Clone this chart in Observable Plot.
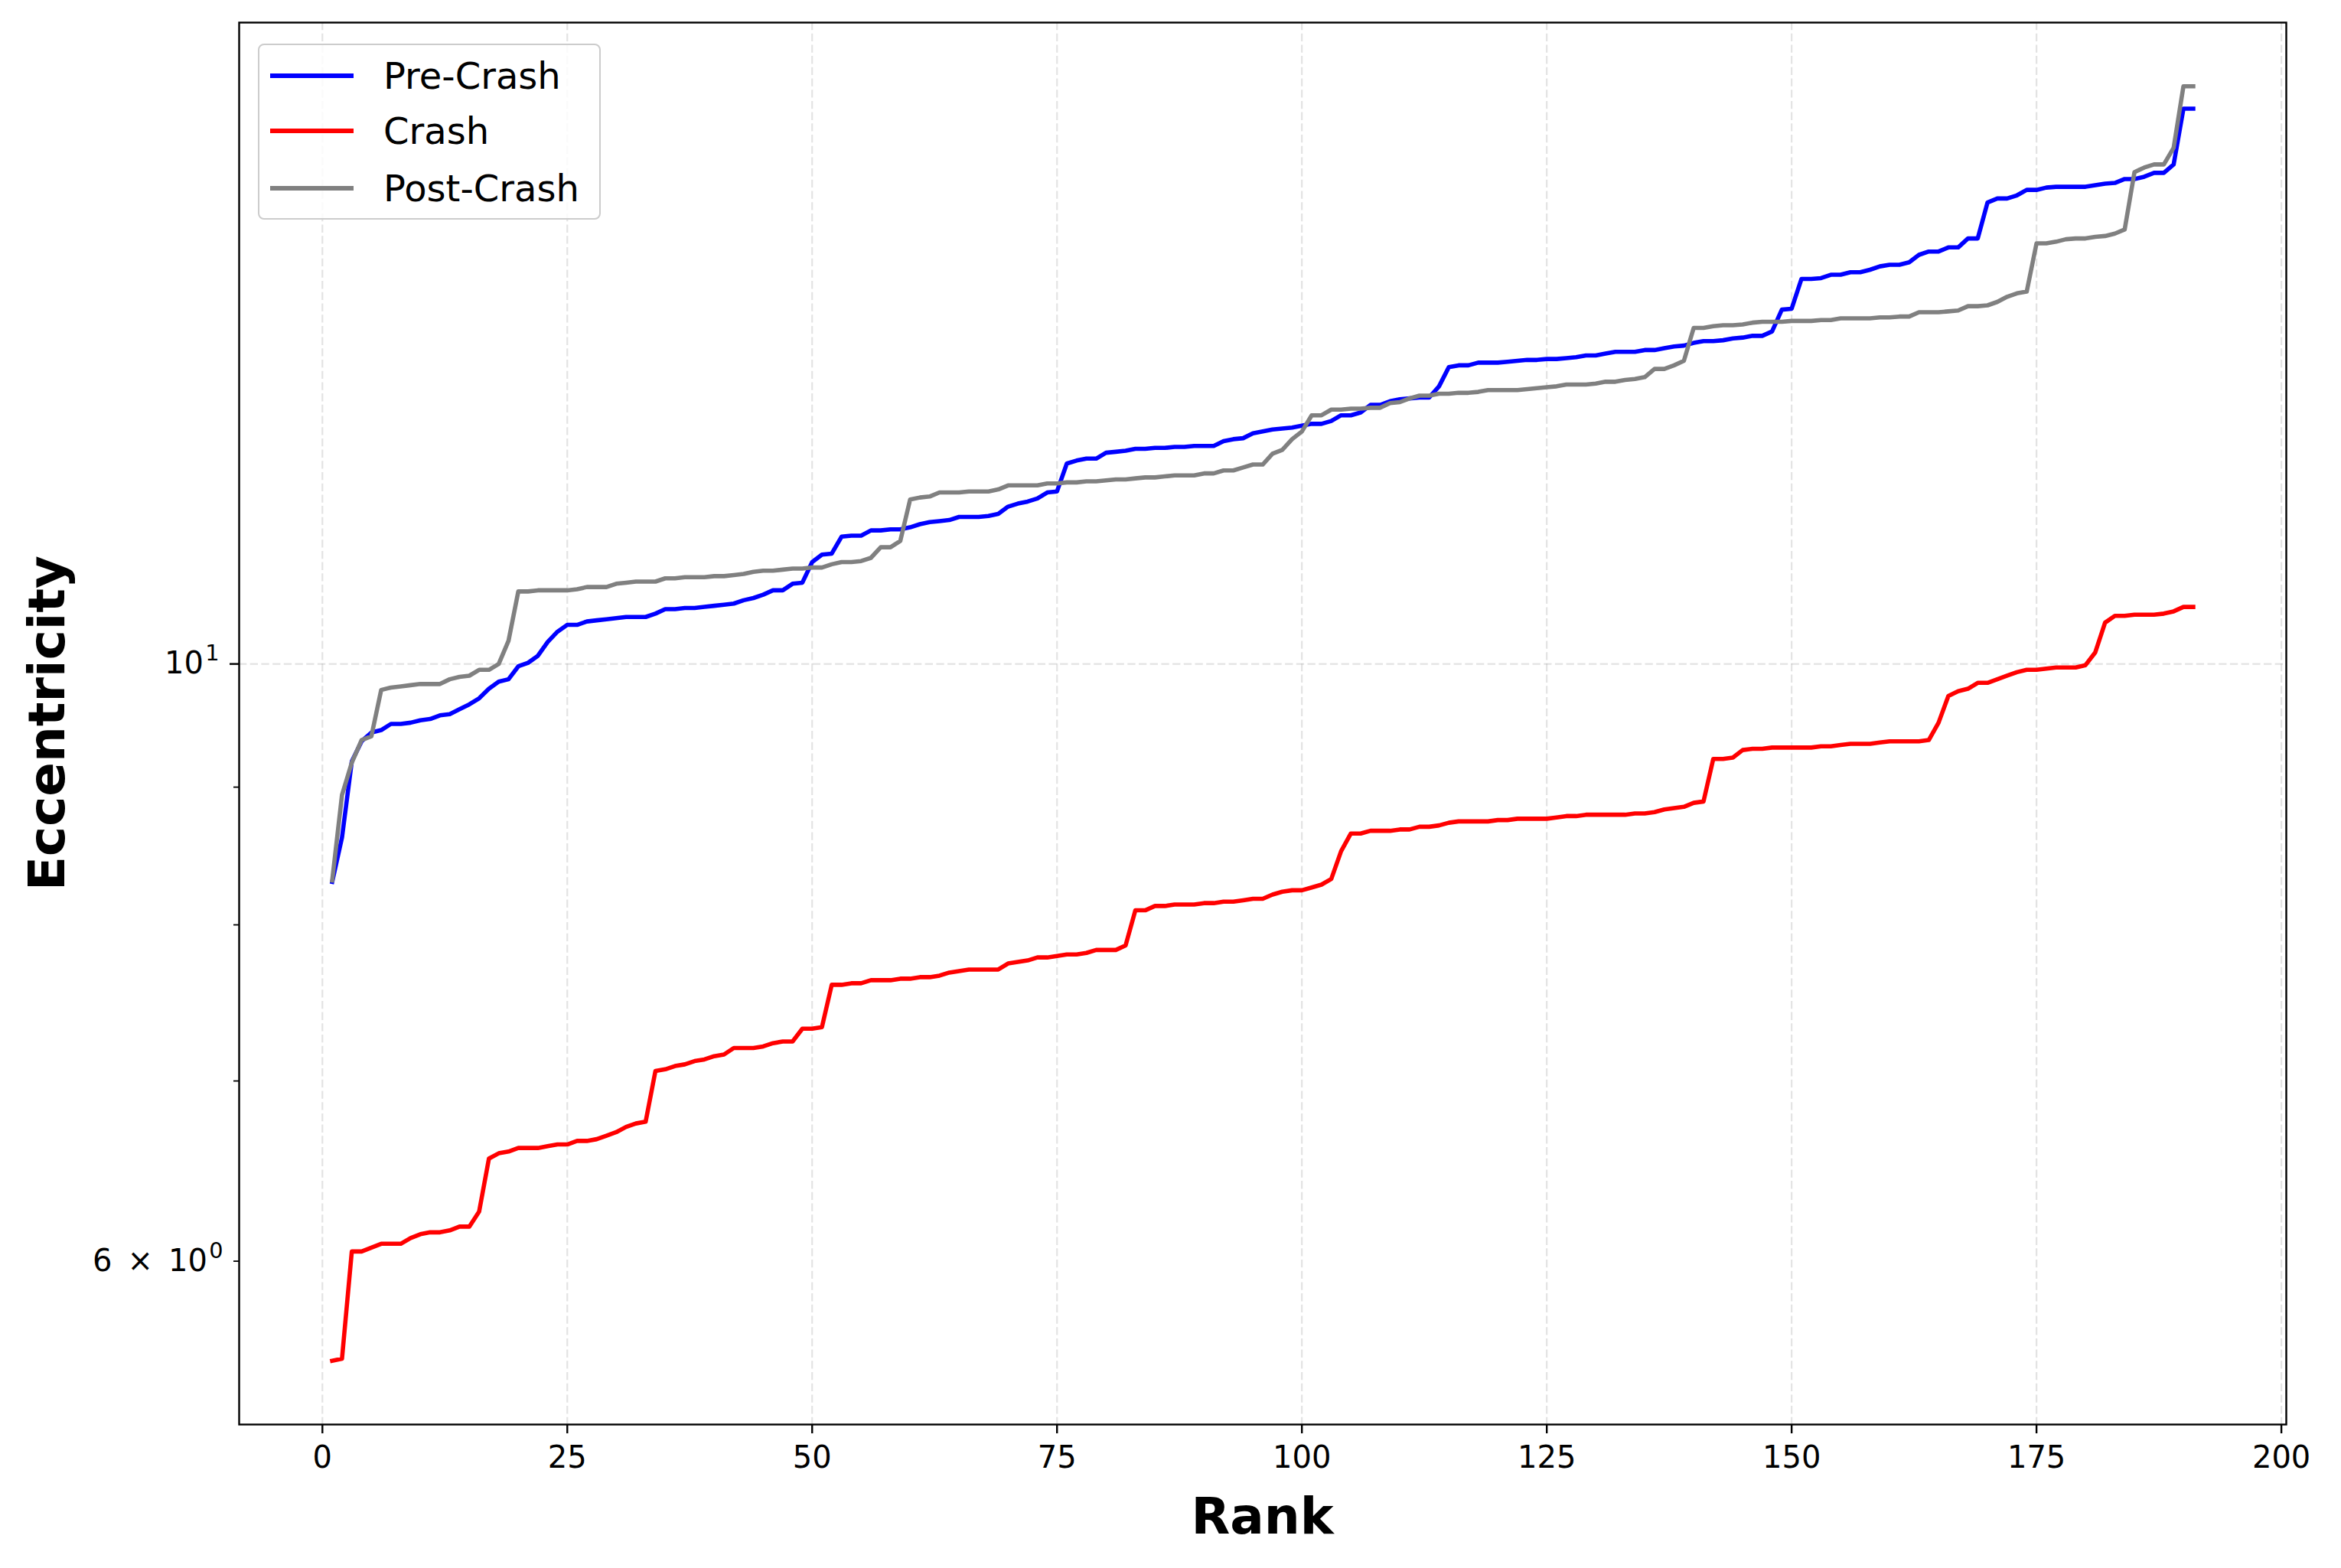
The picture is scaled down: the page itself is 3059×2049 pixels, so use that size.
<!DOCTYPE html>
<html>
<head>
<meta charset="utf-8">
<script src="https://cdn.jsdelivr.net/npm/d3@7"></script>
<script src="https://cdn.jsdelivr.net/npm/@observablehq/plot@0.6"></script>
<style>
  html, body { margin: 0; padding: 0; background: white; }
  #wrap { position: relative; width: 3059px; height: 2049px; font-family: "DejaVu Sans", sans-serif; }
  .lbl { position: absolute; font-family: "DejaVu Sans", sans-serif; font-weight: bold; line-height: 1; white-space: nowrap; color: black; }
  #legend { position: absolute; box-sizing: border-box; background: rgba(255,255,255,0.8); border: 2.2px solid #cccccc; border-radius: 8px; }
  .lg-row { position: absolute; display: flex; align-items: center; }
  .lg-swatch { height: 5.6px; }
  .lg-text { font-family: "DejaVu Sans", sans-serif; font-size: 48px; line-height: 1; color: black; }
</style>
</head>
<body>
<div id="wrap"></div>
<script>
// ---------------- data ----------------
const seriesNames = ["Pre-Crash", "Crash", "Post-Crash"];
const seriesColors = ["#0000ff", "#ff0000", "#808080"];

const preCrash = [
  8.30, 8.62, 9.20, 9.36, 9.43, 9.45, 9.50, 9.50, 9.51, 9.53,
  9.54, 9.57, 9.58, 9.62, 9.66, 9.71, 9.79, 9.85, 9.87, 9.98,
  10.01, 10.07, 10.19, 10.28, 10.34, 10.34, 10.37, 10.38, 10.39, 10.40,
  10.41, 10.41, 10.41, 10.44, 10.48, 10.48, 10.49, 10.49, 10.50, 10.51,
  10.52, 10.53, 10.56, 10.58, 10.61, 10.65, 10.65, 10.71, 10.72, 10.91,
  10.98, 10.99, 11.15, 11.16, 11.16, 11.21, 11.21, 11.22, 11.22, 11.24,
  11.27, 11.29, 11.30, 11.31, 11.34, 11.34, 11.34, 11.35, 11.37, 11.44,
  11.47, 11.49, 11.52, 11.58, 11.59, 11.87, 11.90, 11.92, 11.92, 11.98,
  11.99, 12.00, 12.02, 12.02, 12.03, 12.03, 12.04, 12.04, 12.05, 12.05,
  12.05, 12.10, 12.12, 12.13, 12.18, 12.20, 12.22, 12.23, 12.24, 12.26,
  12.28, 12.28, 12.31, 12.37, 12.37, 12.40, 12.48, 12.48, 12.52, 12.54,
  12.55, 12.56, 12.56, 12.68, 12.89, 12.91, 12.91, 12.94, 12.94, 12.94,
  12.95, 12.96, 12.97, 12.97, 12.98, 12.98, 12.99, 13.00, 13.02, 13.02,
  13.04, 13.06, 13.06, 13.06, 13.08, 13.08, 13.10, 13.12, 13.13, 13.16,
  13.18, 13.18, 13.19, 13.21, 13.22, 13.24, 13.24, 13.29, 13.54, 13.55,
  13.90, 13.90, 13.91, 13.95, 13.95, 13.98, 13.98, 14.01, 14.05, 14.07,
  14.07, 14.10, 14.19, 14.23, 14.23, 14.28, 14.28, 14.39, 14.39, 14.84,
  14.89, 14.89, 14.93, 15.00, 15.00, 15.03, 15.04, 15.04, 15.04, 15.04,
  15.06, 15.08, 15.09, 15.14, 15.14, 15.17, 15.22, 15.22, 15.33, 16.08,
  16.08
];

const crash = [
  5.51, 5.52, 6.05, 6.05, 6.07, 6.09, 6.09, 6.09, 6.12, 6.14,
  6.15, 6.15, 6.16, 6.18, 6.18, 6.26, 6.55, 6.58, 6.59, 6.61,
  6.61, 6.61, 6.62, 6.63, 6.63, 6.65, 6.65, 6.66, 6.68, 6.70,
  6.73, 6.75, 6.76, 7.06, 7.07, 7.09, 7.10, 7.12, 7.13, 7.15,
  7.16, 7.20, 7.20, 7.20, 7.21, 7.23, 7.24, 7.24, 7.32, 7.32,
  7.33, 7.60, 7.60, 7.61, 7.61, 7.63, 7.63, 7.63, 7.64, 7.64,
  7.65, 7.65, 7.66, 7.68, 7.69, 7.70, 7.70, 7.70, 7.70, 7.74,
  7.75, 7.76, 7.78, 7.78, 7.79, 7.80, 7.80, 7.81, 7.83, 7.83,
  7.83, 7.86, 8.10, 8.10, 8.13, 8.13, 8.14, 8.14, 8.14, 8.15,
  8.15, 8.16, 8.16, 8.17, 8.18, 8.18, 8.21, 8.23, 8.24, 8.24,
  8.26, 8.28, 8.32, 8.52, 8.65, 8.65, 8.67, 8.67, 8.67, 8.68,
  8.68, 8.70, 8.70, 8.71, 8.73, 8.74, 8.74, 8.74, 8.74, 8.75,
  8.75, 8.76, 8.76, 8.76, 8.76, 8.77, 8.78, 8.78, 8.79, 8.79,
  8.79, 8.79, 8.79, 8.80, 8.80, 8.81, 8.83, 8.84, 8.85, 8.88,
  8.89, 9.22, 9.22, 9.23, 9.29, 9.30, 9.30, 9.31, 9.31, 9.31,
  9.31, 9.31, 9.32, 9.32, 9.33, 9.34, 9.34, 9.34, 9.35, 9.36,
  9.36, 9.36, 9.36, 9.37, 9.51, 9.73, 9.77, 9.79, 9.84, 9.84,
  9.87, 9.90, 9.93, 9.95, 9.95, 9.96, 9.97, 9.97, 9.97, 9.99,
  10.10, 10.36, 10.42, 10.42, 10.43, 10.43, 10.43, 10.44, 10.46, 10.50,
  10.50
];

const postCrash = [
  8.31, 8.94, 9.19, 9.37, 9.40, 9.78, 9.80, 9.81, 9.82, 9.83,
  9.83, 9.83, 9.87, 9.89, 9.90, 9.95, 9.95, 10.00, 10.20, 10.64,
  10.64, 10.65, 10.65, 10.65, 10.65, 10.66, 10.68, 10.68, 10.68, 10.71,
  10.72, 10.73, 10.73, 10.73, 10.76, 10.76, 10.77, 10.77, 10.77, 10.78,
  10.78, 10.79, 10.80, 10.82, 10.83, 10.83, 10.84, 10.85, 10.85, 10.86,
  10.86, 10.89, 10.91, 10.91, 10.92, 10.95, 11.05, 11.05, 11.11, 11.51,
  11.53, 11.54, 11.58, 11.58, 11.58, 11.59, 11.59, 11.59, 11.61, 11.65,
  11.65, 11.65, 11.65, 11.67, 11.67, 11.68, 11.68, 11.69, 11.69, 11.70,
  11.71, 11.71, 11.72, 11.73, 11.73, 11.74, 11.75, 11.75, 11.75, 11.77,
  11.77, 11.80, 11.80, 11.83, 11.86, 11.86, 11.97, 12.01, 12.12, 12.20,
  12.37, 12.37, 12.43, 12.43, 12.44, 12.44, 12.45, 12.45, 12.50, 12.51,
  12.55, 12.58, 12.58, 12.60, 12.60, 12.61, 12.61, 12.62, 12.64, 12.64,
  12.64, 12.64, 12.65, 12.66, 12.67, 12.68, 12.70, 12.70, 12.70, 12.71,
  12.73, 12.73, 12.75, 12.76, 12.78, 12.87, 12.87, 12.91, 12.96, 13.33,
  13.33, 13.35, 13.36, 13.36, 13.37, 13.39, 13.40, 13.40, 13.40, 13.41,
  13.41, 13.41, 13.42, 13.42, 13.44, 13.44, 13.44, 13.44, 13.45, 13.45,
  13.46, 13.46, 13.51, 13.51, 13.51, 13.52, 13.53, 13.58, 13.58, 13.59,
  13.63, 13.69, 13.73, 13.75, 14.33, 14.33, 14.35, 14.38, 14.39, 14.39,
  14.41, 14.42, 14.45, 14.50, 15.23, 15.29, 15.33, 15.33, 15.55, 16.39,
  16.39
];

const xTicks = [0, 25, 50, 75, 100, 125, 150, 175, 200];
const yMajorTicks = [10];
const yLabelledMinorTicks = [6];
const yMinorTicks = [7, 8, 9];
// tick label text as [mantissa part, exponent]
const yTickParts = {6: ["6\u2002\u00d7\u200210", "0"], 10: ["10", "1"]};
const xLabel = "Rank";
const yLabel = "Eccentricity";

// ---------------- build table ----------------
const allSeries = [preCrash, crash, postCrash];
const rows = allSeries.flatMap((vals, s) =>
  vals.map((v, i) => ({rank: i + 1, value: v, series: seriesNames[s]})));

// ---------------- layout ----------------
const W = 3059, H = 2049;
const ML = 312, MR = 72, MT = 29, MB = 188;

const logMin = Math.log10(d3.min(crash));
const logMax = Math.log10(d3.max(postCrash));
const pad = (logMax - logMin) * 0.05;
const yDomain = [Math.pow(10, logMin - pad), Math.pow(10, logMax + pad)];
const xPad = (191 - 1) * 0.05;
const xDomain = [1 - xPad, 191 + xPad];

const gridStyle = {stroke: "#b0b0b0", strokeOpacity: 0.35, strokeWidth: 2.2, strokeDasharray: "10.3,4.4"};
const yFmt = d => yTickParts[d][0] + "^" + yTickParts[d][1];

const chart = Plot.plot({
  width: W,
  height: H,
  marginLeft: ML,
  marginRight: MR,
  marginTop: MT,
  marginBottom: MB,
  style: {fontFamily: "DejaVu Sans", fontSize: "40px", background: "white", color: "black"},
  x: {domain: xDomain, label: null},
  y: {type: "log", domain: yDomain, label: null},
  color: {domain: seriesNames, range: seriesColors},
  marks: [
    Plot.gridX(xTicks, gridStyle),
    Plot.gridY(yMajorTicks, gridStyle),
    Plot.line(rows, {x: "rank", y: "value", z: "series", stroke: "series", strokeWidth: 5.6, strokeLinejoin: "round", strokeLinecap: "square"}),
    Plot.axisX(xTicks, {tickSize: 12, strokeWidth: 2.4, tickPadding: 16, fontSize: 40, tickFormat: d => String(d), label: null}),
    Plot.axisY(yMajorTicks, {tickSize: 12, strokeWidth: 2.4, tickPadding: 14, fontSize: 40, tickFormat: yFmt, label: null}),
    Plot.axisY(yLabelledMinorTicks, {tickSize: 7, strokeWidth: 1.8, tickPadding: 14, fontSize: 40, tickFormat: yFmt, label: null}),
    Plot.axisY(yMinorTicks, {tickSize: 7, strokeWidth: 1.8, tickFormat: () => "", label: null}),
    Plot.frame({stroke: "black", strokeWidth: 2.4})
  ]
});

// render exponents as raised, smaller text (like mathtext superscripts)
chart.querySelectorAll("text").forEach(t => {
  const s = t.textContent;
  if (s && s.includes("^")) {
    const [base, exp] = s.split("^");
    t.textContent = "";
    const b = document.createElementNS("http://www.w3.org/2000/svg", "tspan");
    b.textContent = base;
    const e = document.createElementNS("http://www.w3.org/2000/svg", "tspan");
    e.textContent = exp;
    e.setAttribute("font-size", "0.72em");
    e.setAttribute("dy", "-0.6em");
    e.setAttribute("dx", "0.08em");
    t.appendChild(b);
    t.appendChild(e);
  }
});

const wrap = document.getElementById("wrap");
wrap.appendChild(chart);

// axis titles
const xl = document.createElement("div");
xl.className = "lbl";
xl.textContent = xLabel;
xl.style.fontSize = "66px";
xl.style.left = (ML + (W - ML - MR) / 2) + "px";
xl.style.top = "1982px";
xl.style.transform = "translate(-50%, -50%)";
wrap.appendChild(xl);

const yl = document.createElement("div");
yl.className = "lbl";
yl.textContent = yLabel;
yl.style.fontSize = "66px";
yl.style.left = "62px";
yl.style.top = (MT + (H - MT - MB) / 2) + "px";
yl.style.transform = "translate(-50%, -50%) rotate(-90deg)";
wrap.appendChild(yl);

// legend
const lg = document.createElement("div");
lg.id = "legend";
lg.style.left = "337px";
lg.style.top = "57px";
lg.style.width = "448px";
lg.style.height = "230px";
wrap.appendChild(lg);
const rowY = [40, 112, 187];
seriesNames.forEach((name, i) => {
  const r = document.createElement("div");
  r.className = "lg-row";
  r.style.left = "14px";
  r.style.top = (rowY[i] - 25) + "px";
  r.style.height = "50px";
  const sw = document.createElement("div");
  sw.className = "lg-swatch";
  sw.style.width = "109px";
  sw.style.background = seriesColors[i];
  sw.style.marginRight = "39px";
  const t = document.createElement("div");
  t.className = "lg-text";
  t.textContent = name;
  r.appendChild(sw);
  r.appendChild(t);
  lg.appendChild(r);
});
</script>
</body>
</html>
